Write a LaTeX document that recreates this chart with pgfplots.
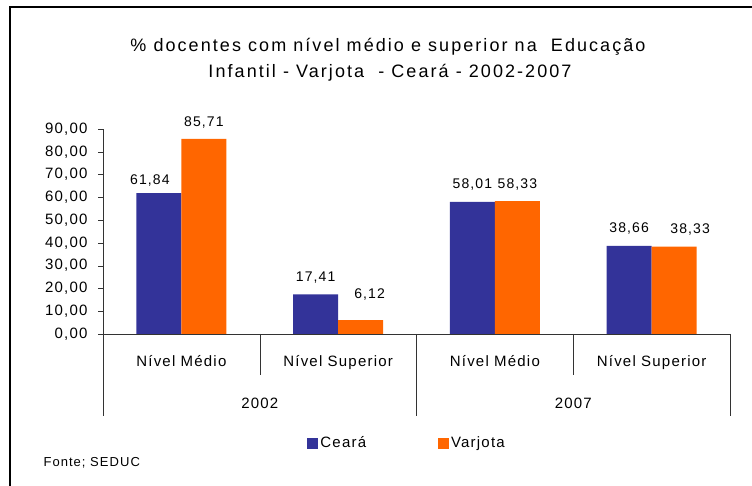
\documentclass[border=0pt]{standalone}
\usepackage{fontspec}
\setmainfont{Liberation Sans}[LetterSpace=8]
\usepackage{pgfplots}
\usepackage{pgfplotstable}
\pgfplotsset{compat=1.18}

\definecolor{ceara}{HTML}{333399}
\definecolor{varjota}{HTML}{FF6600}

% x = category, y = percent, lx/ly = label nudges
\pgfplotstableread{
x y lx ly
0 61.84 -9 9
1 17.41 0 13
2 58.01 0 13
3 38.66 0 13
}\tblceara
\pgfplotstableread{
x y lx ly
0 85.71 0 12
1 6.12 9 22
2 58.33 0 13
3 38.33 16 13
}\tblvarjota

\begin{document}
\begin{tikzpicture}[x=1pt,y=1pt]
\useasboundingbox (0,0) rectangle (752,486);
\draw[line width=1.5pt] (10,0) -- (10,479) -- (752,479);

\node[anchor=base, font=\fontsize{18}{20}\selectfont\addfontfeature{LetterSpace=11.5}] at (388,434)
  {\% docentes com nível médio e superior na\ \ Educação};
\node[anchor=base, font=\fontsize{18}{20}\selectfont\addfontfeature{LetterSpace=11.5}] at (390,408)
  {Infantil - Varjota\ \ - Ceará - 2002-2007};
\node[anchor=base west, font=\fontsize{13}{15}\selectfont] at (40,19) {Fonte; SEDUC};

\begin{axis}[
    at={(103pt,152pt)}, anchor=south west,
    scale only axis,
    width=627pt, height=205pt,
    ybar=0pt, bar width=45pt,
    xmin=-0.5, xmax=3.5, ymin=0, ymax=90,
    ytick={0,10,...,90},
    xtick={0,1,2,3},
    xticklabels={Nível Médio, Nível Superior, Nível Médio, Nível Superior},
    axis x line*=bottom, axis y line*=left,
    axis line style={-, black!80},
    tick align=outside, major tick length=5pt,
    ytick pos=left,
    xtick style={draw=none},
    ytick style={black!80},
    tick label style={font=\fontsize{15}{17}\selectfont},
    yticklabel style={xshift=-7pt},
    xticklabel style={anchor=base, yshift=-28pt},
    /pgf/number format/.cd, fixed, fixed zerofill, precision=2, use comma, 1000 sep={}, assume math mode=true,
    /pgfplots/.cd,
    clip=false,
    nodes near coords,
    visualization depends on={\thisrow{lx}\as\labx},
    visualization depends on={\thisrow{ly}\as\laby},
    every node near coord/.append style={font=\fontsize{14}{16}\selectfont, anchor=base, inner sep=0pt, xshift=\labx pt, yshift=\laby pt, black},
    legend columns=2,
    legend style={draw=none, at={(0.485,-0.532)}, anchor=center, font=\fontsize{15}{17}\selectfont,
      /tikz/every even column/.append style={column sep=70pt}},
]
\addplot[fill=ceara, draw=none,
  legend image code/.code={\fill[ceara] (0pt,-5.5pt) rectangle (11pt,5.5pt);}]
  table[x=x, y=y] {\tblceara};
\addplot[fill=varjota, draw=none,
  legend image code/.code={\fill[varjota] (0pt,-5.5pt) rectangle (11pt,5.5pt);}]
  table[x=x, y=y] {\tblvarjota};
\legend{Ceará, Varjota}

\draw[black!80] (axis cs:-0.5,0) -- ([yshift=-82pt]axis cs:-0.5,0);
\draw[black!80] (axis cs:1.5,0) -- ([yshift=-82pt]axis cs:1.5,0);
\draw[black!80] (axis cs:3.5,0) -- ([yshift=-82pt]axis cs:3.5,0);
\draw[black!80] (axis cs:0.5,0) -- ([yshift=-41pt]axis cs:0.5,0);
\draw[black!80] (axis cs:2.5,0) -- ([yshift=-41pt]axis cs:2.5,0);
\node[anchor=base, font=\fontsize{15}{17}\selectfont] at ([yshift=-75pt]axis cs:0.5,0) {2002};
\node[anchor=base, font=\fontsize{15}{17}\selectfont] at ([yshift=-75pt]axis cs:2.5,0) {2007};
\end{axis}
\end{tikzpicture}
\end{document}
